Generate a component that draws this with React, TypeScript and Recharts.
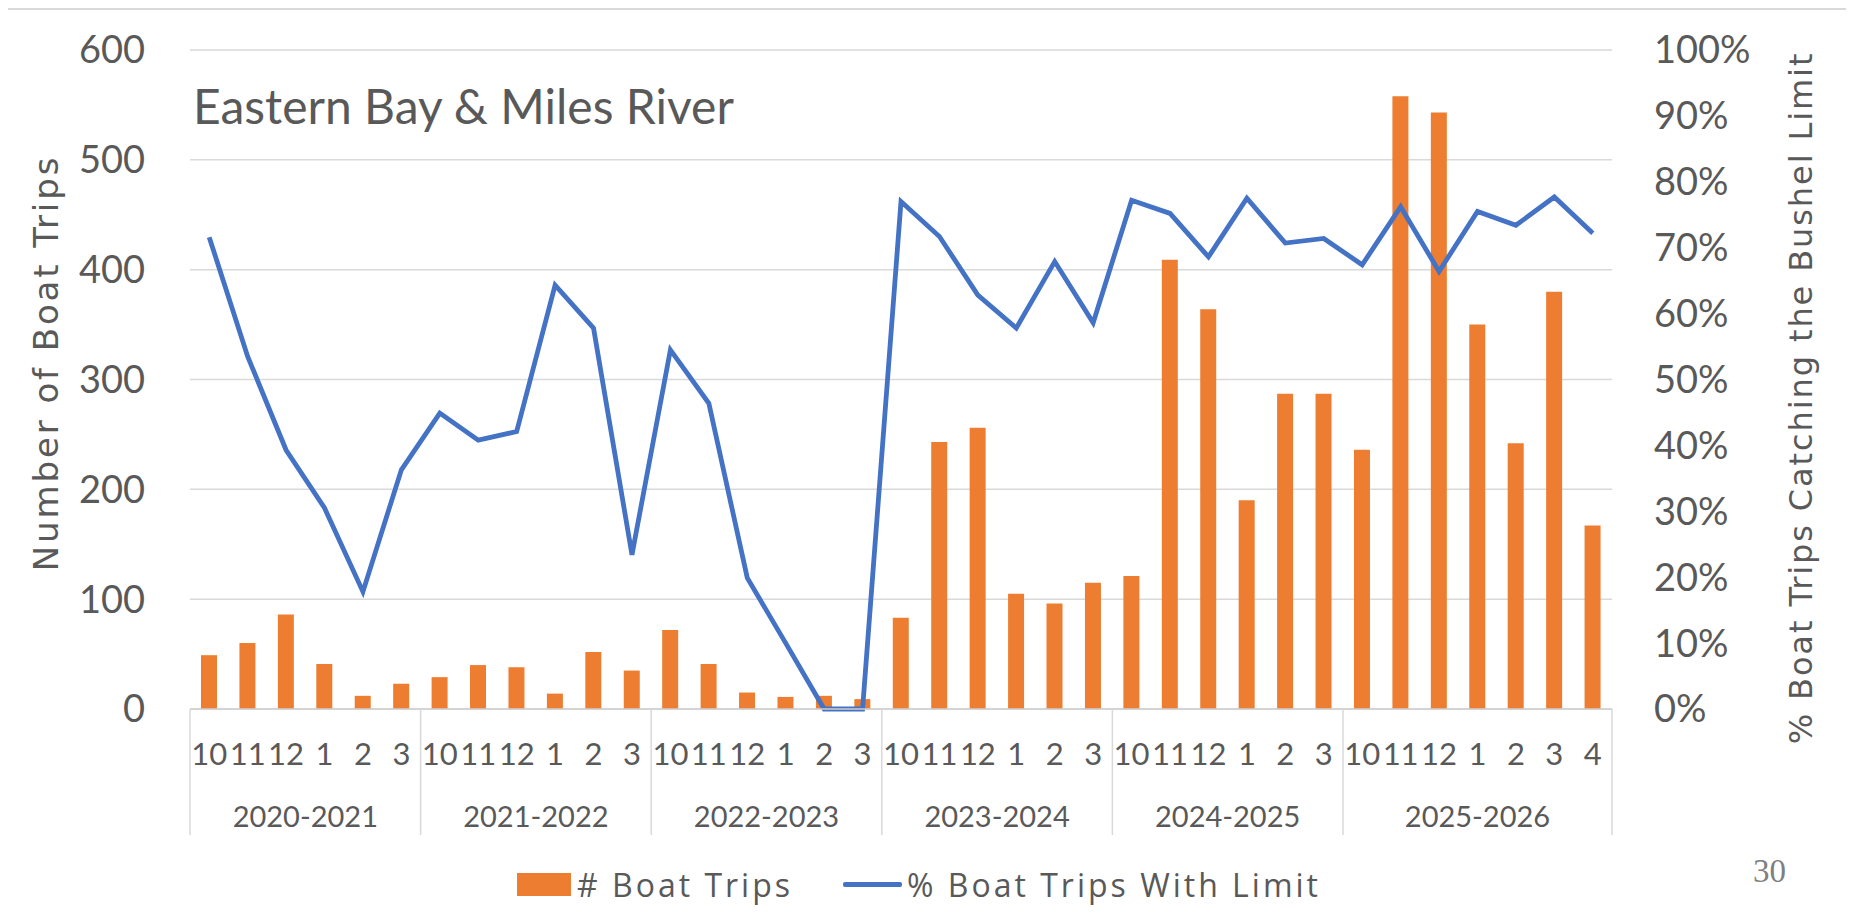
import { ComposedChart, Bar, Line, XAxis, YAxis, CartesianGrid } from "recharts";

const seasons = ["2020-2021", "2021-2022", "2022-2023", "2023-2024", "2024-2025", "2025-2026"];
const seasonMonths = [
  ["10", "11", "12", "1", "2", "3"],
  ["10", "11", "12", "1", "2", "3"],
  ["10", "11", "12", "1", "2", "3"],
  ["10", "11", "12", "1", "2", "3"],
  ["10", "11", "12", "1", "2", "3"],
  ["10", "11", "12", "1", "2", "3", "4"],
];
const boatTrips = [
  49, 60, 86, 41, 12, 23,
  29, 40, 38, 14, 52, 35,
  72, 41, 15, 11, 12, 9,
  83, 243, 256, 105, 96, 115,
  121, 409, 364, 190, 287, 287,
  236, 558, 543, 350, 242, 380, 167,
];
const pctWithLimit = [
  71.6, 53.5, 39.3, 30.5, 17.8, 36.3,
  44.9, 40.8, 42.1, 64.3, 57.8, 23.4,
  54.5, 46.4, 19.9, 10, 0, 0,
  77, 71.7, 62.8, 57.8, 67.9, 58.6,
  77.2, 75.2, 68.6, 77.5, 70.7, 71.4,
  67.4, 76.2, 66.4, 75.5, 73.4, 77.7, 72.2,
];
const leftTicks = [0, 100, 200, 300, 400, 500, 600];
const rightTicks = [0, 10, 20, 30, 40, 50, 60, 70, 80, 90, 100];

const data: any[] = [];
seasons.forEach((season, s) => {
  seasonMonths[s].forEach((month, m) => {
    const i = data.length;
    data.push({
      id: i,
      month,
      season,
      first: m === 0,
      groupSize: seasonMonths[s].length,
      trips: boatTrips[i],
      pct: pctWithLimit[i],
    });
  });
});

const W = 1836;
const H = 889;
const LEFT_W = 182;
const RIGHT_W = 232;
const TOP = 40;
const AXIS_H = 126;
const BOTTOM = 64;
const plotW = W - LEFT_W - RIGHT_W;
const band = plotW / data.length;

const BAR_COLOR = "#ED7D31";
const LINE_COLOR = "#4472C4";
const TEXT = "#595959";
const GRID = "#d9d9d9";
const SANS = "Lato, 'Open Sans', sans-serif";
const LEGEND_FONT = "'Open Sans', sans-serif";
const TITLE_FONT = "'DejaVu Sans', sans-serif";

const MonthTick = (props: any) => {
  const { x, y, payload } = props;
  const d = data[payload.index];
  if (!d) return null;
  const lineEnd = y + AXIS_H;
  return (
    <g>
      <text x={x} y={y + 44} textAnchor="middle" dominantBaseline="central" fill={TEXT} fontFamily={SANS} fontSize={31}>
        {d.month}
      </text>
      {d.first && (
        <>
          <line x1={x - band / 2} x2={x - band / 2} y1={y} y2={lineEnd} stroke={GRID} strokeWidth={1.5} />
          <text
            x={x - band / 2 + (d.groupSize * band) / 2}
            y={y + 106}
            textAnchor="middle"
            dominantBaseline="central"
            fill={TEXT}
            fontFamily={SANS}
            fontSize={29}
          >
            {d.season}
          </text>
        </>
      )}
      {payload.index === data.length - 1 && (
        <line x1={x + band / 2} x2={x + band / 2} y1={y} y2={lineEnd} stroke={GRID} strokeWidth={1.5} />
      )}
    </g>
  );
};

export default function App() {
  return (
    <div
      style={{
        position: "relative",
        width: W + 2,
        height: H + 8,
        borderTop: "2px solid #d9d9d9",
        borderRight: "2px solid #d9d9d9",
        background: "#fff",
      }}
    >
      <div style={{ position: "absolute", left: 0, top: 0 }}>
        <ComposedChart width={W} height={H} data={data} margin={{ top: TOP, right: 0, left: 0, bottom: BOTTOM }} barCategoryGap={0}>
          <CartesianGrid yAxisId="left" vertical={false} stroke={GRID} strokeWidth={1.5} />
          <XAxis
            dataKey="id"
            type="category"
            height={AXIS_H}
            interval={0}
            tickLine={false}
            tickSize={0}
            tickMargin={0}
            axisLine={{ stroke: "#cfcfcf", strokeWidth: 1.5 }}
            tick={<MonthTick />}
          />
          <YAxis
            yAxisId="left"
            orientation="left"
            width={LEFT_W}
            domain={[0, 600]}
            ticks={leftTicks}
            axisLine={false}
            tickLine={false}
            tickSize={0}
            tickMargin={45}
            tick={{ fill: TEXT, fontFamily: SANS, fontSize: 38 }}
          />
          <YAxis
            yAxisId="right"
            orientation="right"
            width={RIGHT_W}
            domain={[0, 100]}
            ticks={rightTicks}
            axisLine={false}
            tickLine={false}
            tickSize={0}
            tickMargin={42}
            tickFormatter={(v: number) => `${v}%`}
            tick={{ fill: TEXT, fontFamily: SANS, fontSize: 38, textAnchor: "start" }}
          />
          <Bar yAxisId="left" dataKey="trips" name="# Boat Trips" fill={BAR_COLOR} barSize={16} isAnimationActive={false} />
          <Line
            yAxisId="right"
            dataKey="pct"
            name="% Boat Trips With Limit"
            type="linear"
            stroke={LINE_COLOR}
            strokeWidth={4.8}
            dot={false}
            isAnimationActive={false}
          />
        </ComposedChart>
      </div>

      <div
        style={{
          position: "absolute",
          left: 185,
          top: 67,
          fontFamily: SANS,
          fontSize: 48,
          lineHeight: 1.2,
          color: TEXT,
          whiteSpace: "nowrap",
        }}
      >
        Eastern Bay &amp; Miles River
      </div>

      <div
        style={{
          position: "absolute",
          left: 38,
          top: 353,
          transform: "translate(-50%, -50%) rotate(-90deg)",
          fontFamily: TITLE_FONT,
          fontSize: 34,
          letterSpacing: 2.9,
          color: TEXT,
          whiteSpace: "nowrap",
        }}
      >
        Number of Boat Trips
      </div>

      <div
        style={{
          position: "absolute",
          left: 1793,
          top: 388,
          transform: "translate(-50%, -50%) rotate(-90deg)",
          fontFamily: TITLE_FONT,
          fontSize: 32,
          letterSpacing: 1.9,
          color: TEXT,
          whiteSpace: "nowrap",
        }}
      >
        % Boat Trips Catching the Bushel Limit
      </div>

      <div
        style={{
          position: "absolute",
          left: 509,
          top: 852,
          height: 44,
          display: "flex",
          alignItems: "center",
          fontFamily: LEGEND_FONT,
          fontSize: 32,
          letterSpacing: 3,
          color: TEXT,
          whiteSpace: "nowrap",
        }}
      >
        <span style={{ display: "inline-block", width: 54, height: 23, background: BAR_COLOR, marginRight: 6 }} />
        <span># Boat Trips</span>
        <span style={{ display: "inline-block", width: 59, height: 5, borderRadius: 2, background: LINE_COLOR, marginLeft: 50, marginRight: 5 }} />
        <span>% Boat Trips With Limit</span>
      </div>

      <div style={{ position: "absolute", left: 1745, top: 843, fontFamily: "'Liberation Serif', serif", fontSize: 33, color: "#7f7f7f" }}>
        30
      </div>
    </div>
  );
}
